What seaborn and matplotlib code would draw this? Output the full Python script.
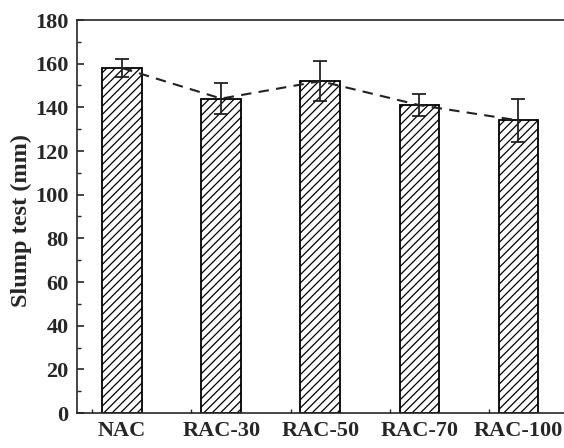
import matplotlib
matplotlib.use("Agg")
import matplotlib.pyplot as plt
import seaborn as sns
import numpy as np
from matplotlib.ticker import MultipleLocator, FixedLocator

# Slump test data
mixes = ["NAC", "RAC-30", "RAC-50", "RAC-70", "RAC-100"]
slump = [158, 144, 152, 141, 134]
slump_err = [4, 7, 9, 5, 10]

sns.set_style("ticks")
plt.rcParams['font.family'] = ['Liberation Serif', 'DejaVu Serif']
plt.rcParams['font.weight'] = 'bold'
plt.rcParams['hatch.linewidth'] = 0.9

fig = plt.figure(figsize=(5.64, 4.48), dpi=100)
ax = fig.add_axes([77 / 564, 35 / 448, 491 / 564, 393 / 448])

sns.barplot(x=mixes, y=slump, color="white", edgecolor="black", linewidth=1.3,
            width=0.4, hatch="////", ax=ax)

pos = np.arange(len(mixes))
ax.errorbar(pos, slump, yerr=slump_err, fmt="none", ecolor="#222222",
            elinewidth=1.3, capsize=5, capthick=1.3)
ax.plot(pos, slump, linestyle=(0, (5, 3.5)), color="#222222", linewidth=1.5, zorder=1)

ax.set_xlim(-0.455, 4.5)
ax.set_ylim(0, 180)
ax.yaxis.set_major_locator(MultipleLocator(20))
ax.yaxis.set_minor_locator(MultipleLocator(10))
ax.xaxis.set_minor_locator(FixedLocator(pos - 0.3))
ax.tick_params(axis="y", which="major", direction="in", length=5, width=1.2, labelsize=16, pad=6)
ax.tick_params(axis="y", which="minor", direction="in", length=3, width=1.0)
ax.tick_params(axis="x", which="major", length=0, labelsize=16, pad=6)
ax.tick_params(axis="x", which="minor", direction="in", length=3, width=1.0)
for lab in ax.get_xticklabels() + ax.get_yticklabels():
    lab.set_fontweight("bold")

ax.set_ylabel("Slump test (mm)", fontsize=17.5, fontweight="bold")
ax.yaxis.set_label_coords(-0.092, 0.49)
for sp in ax.spines.values():
    sp.set_linewidth(1.2)
    sp.set_visible(True)

fig.savefig("out.png", dpi=100)
